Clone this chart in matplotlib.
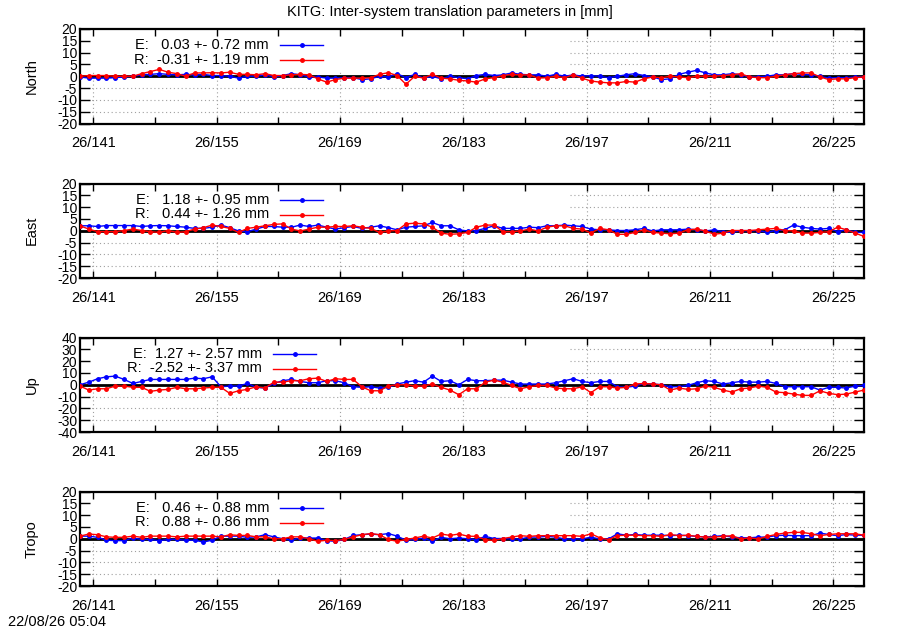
import numpy as np
import matplotlib
matplotlib.use("Agg")
import matplotlib.pyplot as plt
from matplotlib.patches import Rectangle

plt.rcParams["font.family"] = ["Liberation Sans", "DejaVu Sans"]
plt.rcParams["font.size"] = 10.5

# daily solutions, day-of-year (noon)
doy = np.arange(139.5, 229.5, 1.0)

north_E = [-0.3, -0.8, -0.8, -0.8, -0.6, -0.3, 0, 0.6, 0.8, 1.1, 0.8, 0.6, 0.8, 0.6, 0.8,
           0.3, 0.3, 0, -0.8, 0, 0, 0.6, -0.3, 0.3, 1.1, 0.6, -0.3, -0.3, -0.8, -0.8,
           -0.6, -0.6, -1.4, -1.1, 0, -0.3, 1.1, -0.6, 0.8, -0.8, 0, -1.1, 0, -0.6, -1.1,
           0.3, 0.8, 0.3, 0.6, 1.4, 0.8, 0.6, 0.6, 0, 0.8, 0, 0.6, 0, 0.3, 0,
           -0.6, 0, 0.6, 1.1, 0.3, -0.3, -1.4, -1.1, 0.8, 1.7, 2.5, 1.4, 0.6, 0.6, 1.1,
           0.6, -0.3, -0.3, 0, 0.6, 0.6, 1.1, 0.8, 0.6, 0, -0.8, -0.6, -0.6, -0.3, -0.3]
north_R = [0, 0.3, 0.3, 0.3, 0, 0, 0, 1.1, 2.0, 2.9, 1.7, 1.1, 0, 1.4, 1.4,
           1.5, 1.4, 1.7, 0.8, 0.8, 0.6, 1.1, 0.3, 0.3, 0.6, 0.8, 0.6, -1.1, -2.5, -1.4,
           -0.8, -0.8, -0.8, -0.6, 0.8, 1.5, 0.3, -3.4, 0, -0.8, 0.8, -0.8, -1.1, -1.7, -2.0,
           -2.5, -1.1, -0.6, 0.3, 0.8, 0.6, 0.6, -0.8, -0.6, 0, -0.6, 0.6, -0.8, -2.0, -2.5,
           -2.8, -2.8, -2.2, -2.5, -1.1, -0.3, -0.6, 0, -0.3, -0.6, 0, 0, 0, 0.3, 0.6,
           1.1, -0.3, -0.6, -0.6, 0, 0.6, 1.1, 1.4, 1.4, -0.3, -1.4, -1.1, -1.1, -0.6, -0.3]

east_E = [2.1, 2.1, 1.8, 2.2, 2.2, 2.2, 2.2, 1.8, 2.1, 2.2, 2.1, 1.8, 1.5, 1.0, 1.0,
          1.5, 2.4, 1.3, -0.1, -0.4, 0.7, 1.8, 1.8, 1.5, 1.5, 2.4, 1.8, 2.4, 1.5, 0.7,
          1.3, 1.8, 1.0, 1.5, 2.1, 1.3, 0.4, 1.5, 1.8, 2.1, 3.5, 2.1, 2.1, 0.4, -0.1,
          0.1, 1.0, 2.1, 1.0, 1.0, 1.0, 1.5, 1.3, 2.1, 2.1, 2.4, 2.1, 1.8, 0.7, 0.4,
          0.4, 0.1, 0.1, 0.4, 1.0, -0.1, 0.4, 0.4, 0.4, 0.7, 0.4, -0.1, 0.4, -0.4, -0.7,
          0.1, -0.1, 0.1, -0.7, 0.1, 0.4, 2.4, 1.5, 1.0, 0.7, 1.0, -0.4, 0.4, -0.7, -0.7]
east_R = [2.1, 0.7, -0.4, -0.4, -0.4, 0.1, 0.7, 0.1, -0.4, -0.7, 0.1, -0.7, -0.4, 0.7, 1.3,
          2.4, 1.8, 1.0, -0.7, 1.0, 1.5, 2.1, 2.7, 2.9, 0.7, -0.1, 0.7, 1.5, 1.5, 1.8,
          1.8, 2.1, 1.5, 1.0, -0.7, -0.1, 0.1, 2.9, 3.2, 2.9, 1.5, -1.0, -1.5, -1.3, -0.7,
          1.5, 2.4, 2.4, -0.4, -0.4, -0.1, 0.7, -0.1, 1.5, 2.1, 2.1, 1.0, 0.7, -1.0, 1.0,
          0.4, -1.5, -1.5, -0.7, 0.4, -0.7, -1.0, -1.3, -1.0, 0.4, 0.7, -0.1, -1.5, -1.0, 0.1,
          0.1, 0.1, 0.4, 0.7, 1.0, 0.1, -0.1, -1.0, -1.0, -0.7, -0.4, 1.5, 0.4, -1.0, -2.4]

up_E = [0, 2.2, 5.1, 6.7, 7.3, 4.5, 1.1, 2.8, 4.5, 4.5, 4.5, 4.5, 4.5, 5.6, 5.1,
        6.7, -1.7, -1.1, -1.1, 1.1, -2.2, -2.8, 1.1, 3.4, 4.5, 2.8, 1.7, 1.7, 3.4, 3.4,
        1.7, -1.7, -2.2, -1.7, -2.8, -2.2, 0.6, 2.2, 3.4, 2.2, 7.3, 2.8, 3.4, 0, 4.5,
        3.4, 3.4, 3.9, 3.9, 2.2, 0.6, 0.6, 0.6, 0.6, 1.7, 3.4, 5.1, 2.8, 1.7, 2.8,
        2.8, -1.7, -2.2, -1.1, 1.1, 0.6, 0, -1.7, -1.7, -0.6, 1.7, 3.4, 2.8, 0.6, 1.7,
        2.8, 2.2, 2.2, 2.8, 1.1, -1.7, -1.7, -1.7, -1.7, -4.5, -2.2, -2.2, -2.8, -1.1, -0.6]
up_R = [-1.1, -4.5, -3.4, -3.4, -1.1, -1.1, -2.2, -2.2, -5.6, -4.5, -3.9, -2.2, -3.4, -3.4, -2.8,
        -2.2, -2.2, -7.3, -5.1, -3.9, -1.7, -2.8, 2.2, 2.2, 3.4, 3.4, 5.1, 5.6, 2.8, 5.1,
        4.5, 4.5, -1.7, -5.1, -5.1, -1.1, 0, 0, -1.1, -1.1, 0.6, -2.2, -4.5, -8.4, -3.4,
        -3.4, 2.2, 3.9, 2.2, -0.6, -3.4, -1.7, -0.6, -0.6, -2.8, -3.4, -3.4, -1.7, -6.7, -1.7,
        -1.7, -2.8, -2.2, 0.6, 1.1, 0.6, 0, -4.5, -2.8, -3.9, -3.4, -1.1, -2.2, -4.5, -6.2,
        -3.4, -2.8, -1.1, -2.2, -6.2, -6.7, -7.9, -9.0, -9.0, -5.1, -7.3, -8.4, -7.9, -6.2, -4.5]

tropo_E = [1.1, 1.1, 0.6, -0.6, -0.8, -0.8, 0.3, -0.3, -0.3, -0.8, -0.3, -0.3, -0.6, -0.6, -1.4,
           -0.6, 1.1, 1.1, 1.1, 0.6, 0.8, 1.7, 0.8, 0, -0.6, 0.3, 0.3, 0.3, -0.8, -1.1,
           -0.3, 1.4, 1.7, 2.0, 1.7, 2.2, 1.1, -0.6, -0.3, 0.3, -1.1, 0.6, 0, 0.3, 0,
           -0.4, 1.0, 0.1, 0.1, -0.1, -0.1, 0.7, 0.7, 1.0, 0.7, -0.1, -0.1, -0.1, 0.7, -0.1,
           -0.1, 2.1, 1.5, 1.8, 1.5, 1.5, 1.5, 1.3, 1.5, 1.3, 1.0, 0.7, 1.0, 1.3, 0.7,
           0.4, 0.4, 0.7, 0.7, 1.3, 1.5, 1.3, 1.3, 1.3, 2.4, 1.8, 1.3, 1.8, 1.5, 1.5]
tropo_R = [1.1, 2.0, 1.7, 0.8, 0.6, 0.6, 1.1, 0.6, 1.1, 1.1, 1.1, 0.8, 1.1, 1.1, 1.1,
           1.1, 0.8, 1.7, 1.4, 1.4, 0.8, 0.8, 0, 0, 0.8, 0.8, 0, -1.1, -0.6, -0.8,
           -0.3, 0.8, 1.7, 2.2, 1.7, -0.3, -1.1, -0.3, 0.3, 1.1, 0.3, 2.0, 1.4, 2.0, 1.1,
           1.0, -0.4, -0.7, 0.1, 0.7, 1.3, 1.0, 1.3, 1.3, 1.3, 1.3, 1.3, 1.0, 2.1, 0.4,
           -0.4, 1.3, 1.5, 1.5, 1.3, 1.3, 1.0, 1.8, 1.3, 1.5, 1.0, 0.7, 0.7, 1.0, 1.3,
           -0.1, 0.4, -0.1, 1.0, 1.8, 2.4, 2.7, 2.7, 2.1, 1.3, 1.8, 2.1, 2.1, 2.1, 1.5]

panel_names = ["North", "East", "Up", "Tropo"]
series_E = [north_E, east_E, up_E, tropo_E]
series_R = [north_R, east_R, up_R, tropo_R]
key_E = ["E:   0.03 +- 0.72 mm", "E:   1.18 +- 0.95 mm", "E:  1.27 +- 2.57 mm", "E:   0.46 +- 0.88 mm"]
key_R = ["R:  -0.31 +- 1.19 mm", "R:   0.44 +- 1.26 mm", "R:  -2.52 +- 3.37 mm", "R:   0.88 +- 0.86 mm"]
y_limits = [20, 20, 40, 20]
y_steps = [5, 5, 10, 5]

major_days = [141, 155, 169, 183, 197, 211, 225]
minor_days = [148, 162, 176, 190, 204, 218]
day_labels = ["26/%d" % d for d in major_days]

fig = plt.figure(figsize=(9, 6.3), dpi=100)
W, H = 900.0, 630.0
left_px, right_px = 80, 864
tops = [29, 183.5, 337.5, 491.5]
height_px = 94.5

for k in range(4):
    ax = fig.add_axes([left_px / W, 1 - (tops[k] + height_px) / H,
                       (right_px - left_px) / W, height_px / H])
    lim = y_limits[k]
    yt = np.arange(-lim, lim + 1, y_steps[k])

    # dotted grid, drawn by hand so the key area can blank it
    for y in yt:
        if y != 0 and abs(y) != lim:
            ax.axhline(y, color="#a0a0a0", lw=0.8, ls=(0, (1, 2.5)), zorder=0.5)
    for d in major_days:
        ax.axvline(d, color="#a0a0a0", lw=0.8, ls=(0, (1, 2.5)), zorder=0.5)
    ax.add_patch(Rectangle((0, 0.545), 0.625, 0.455, transform=ax.transAxes,
                           facecolor="white", edgecolor="none", zorder=1))
    ax.axhline(0, color="black", lw=2, zorder=1.5)

    ax.plot(doy, series_E[k], color="blue", lw=1, marker="o", ms=2.5, zorder=3)
    ax.plot(doy, series_R[k], color="red", lw=1, marker="o", ms=2.5, zorder=3)

    ax.set_xlim(139.5, 228.5)
    ax.set_ylim(-lim, lim)
    ax.set_yticks(yt)
    ax.set_yticklabels([str(v) for v in yt], fontsize=10)
    ax.set_xticks(major_days)
    ax.set_xticklabels(day_labels)
    ax.set_xticks(minor_days, minor=True)
    ax.tick_params(axis="both", which="both", direction="in", top=True, right=True,
                   width=1, colors="black")
    ax.tick_params(axis="y", length=7, pad=2)
    ax.tick_params(axis="x", which="both", length=5, pad=9)
    for sp in ax.spines.values():
        sp.set_linewidth(1.6)
    ax.set_ylabel(panel_names[k])
    ax.yaxis.set_label_coords((39 - left_px) / (right_px - left_px), 0.5)

    # key, gnuplot style: text right-justified, sample to the right
    x0 = 280 if k != 2 else 273
    for row, (txt, col) in enumerate([(key_E[k], "blue"), (key_R[k], "red")]):
        yk = 1 - (16 + 15 * row) / height_px
        ax.text((x0 - 11 - left_px) / (right_px - left_px), yk, txt, transform=ax.transAxes,
                ha="right", va="center", zorder=4)
        xs = [(x0 - left_px) / (right_px - left_px), (x0 + 43 - left_px) / (right_px - left_px)]
        ax.plot(xs, [yk, yk], color=col, lw=1, transform=ax.transAxes, zorder=4, clip_on=False)
        ax.plot([sum(xs) / 2], [yk], color=col, marker="o", ms=2.5, transform=ax.transAxes,
                zorder=4, clip_on=False)

fig.text(0.5, 1 - 12 / H, "KITG: Inter-system translation parameters in [mm]",
         ha="center", va="center")
fig.text(8 / W, 1 - 622 / H, "22/08/26 05:04", ha="left", va="center")

fig.savefig("out.png", dpi=100)
